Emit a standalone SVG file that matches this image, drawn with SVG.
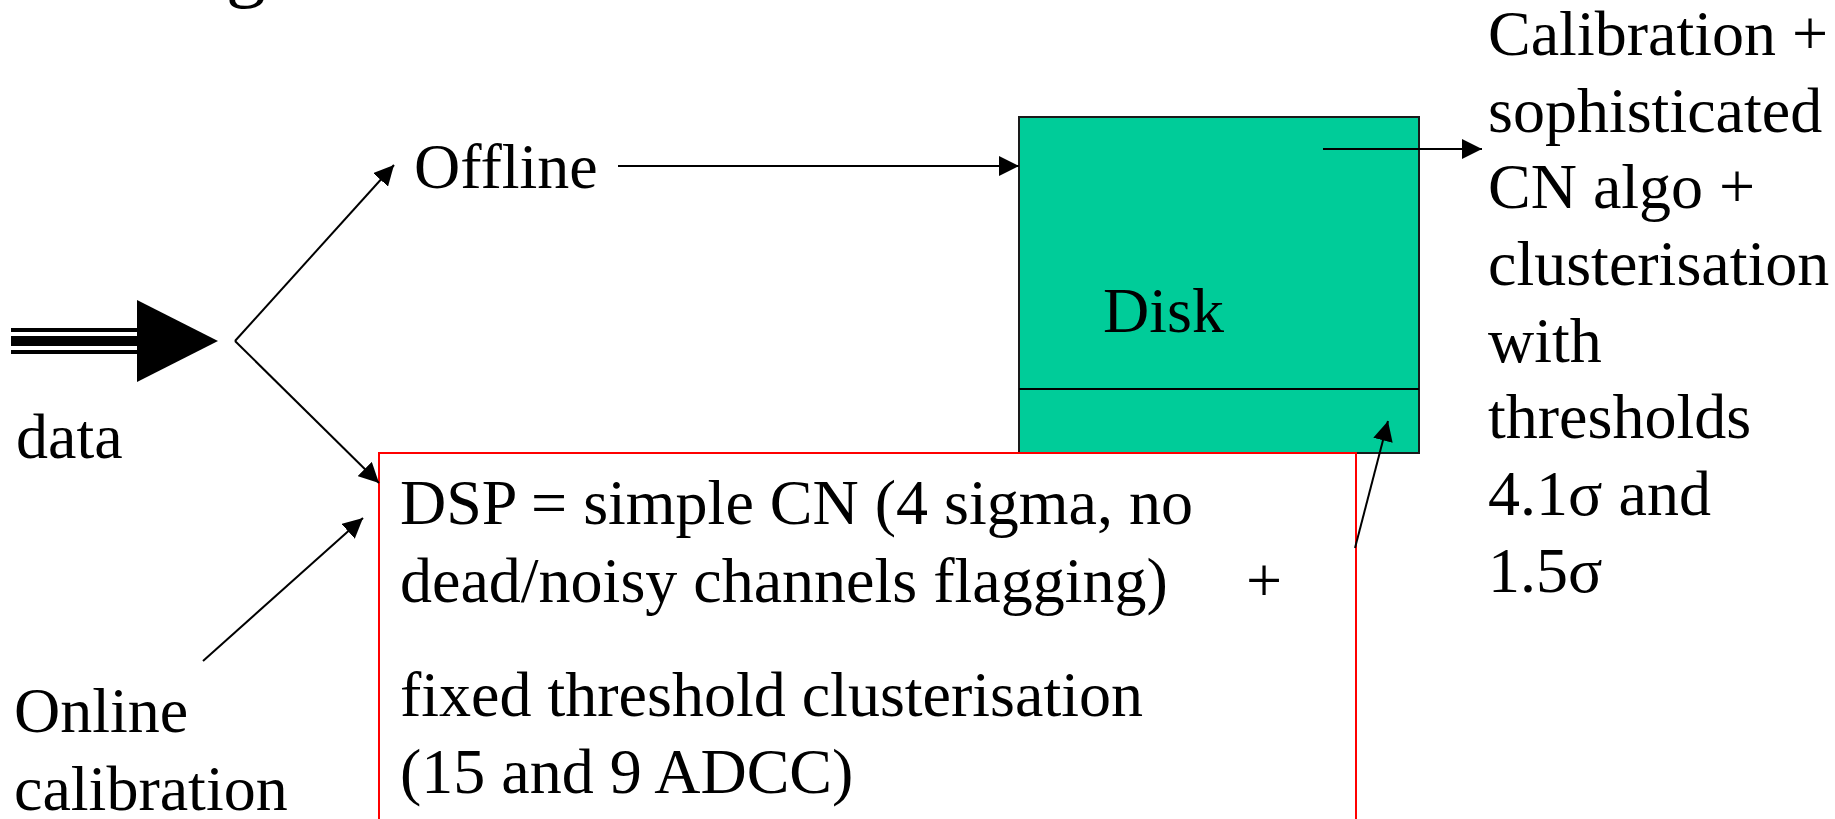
<svg xmlns="http://www.w3.org/2000/svg" width="1835" height="819" viewBox="0 0 1835 819">
  <style>
    .t { font-family: "Liberation Serif", "Times New Roman", serif; font-size: 64px; fill: #000000; }
    .conn { stroke: #000000; stroke-width: 2; fill: none; marker-end: url(#arrow); }
    .disk { fill: #00CC99; stroke: #1a1a1a; stroke-width: 2; }
    .dsp { fill: #FFFFFF; stroke: #FF0000; stroke-width: 2; }
  </style>
  <defs>
    <marker id="arrow" markerUnits="userSpaceOnUse" markerWidth="20" markerHeight="20" viewBox="0 0 20 20" refX="20" refY="10" orient="auto">
      <path d="M0,0 L20,10 L0,20 z" fill="#000000"/>
    </marker>
  </defs>
  <rect x="0" y="0" width="1835" height="819" fill="#FFFFFF"/>

  <g id="title">
    <text class="t" x="226" y="-8" style="font-size:80px">g</text>
  </g>

  <g id="data">
    <rect x="11" y="328" width="126" height="4" fill="#000000"/>
    <rect x="11" y="336" width="126" height="10" fill="#000000"/>
    <rect x="11" y="350" width="126" height="4" fill="#000000"/>
    <polygon points="137,300 218,341 137,382" fill="#000000"/>
    <text class="t" x="16" y="458">data</text>
  </g>

  <g id="offline">
    <text class="t" x="414" y="188">Offline</text>
  </g>

  <g id="online">
    <text class="t" x="14" y="732">Online</text>
    <text class="t" x="14" y="810">calibration</text>
  </g>

  <g id="disk">
    <rect class="disk" x="1019" y="117" width="400" height="336"/>
    <line x1="1019" y1="389" x2="1419" y2="389" stroke="#000000" stroke-width="2"/>
    <text class="t" x="1103" y="332">Disk</text>
  </g>

  <g id="dsp">
    <rect class="dsp" x="379" y="453" width="977" height="420"/>
    <text class="t" x="400" y="524">DSP = simple CN (4 sigma, no</text>
    <text class="t" x="400" y="602">dead/noisy channels flagging)<tspan x="1246">+</tspan></text>
    <text class="t" x="400" y="716">fixed threshold clusterisation</text>
    <text class="t" x="400" y="793">(15 and 9 ADCC)</text>
  </g>

  <g id="result">
    <text class="t" x="1488" y="55">Calibration +</text>
    <text class="t" x="1488" y="132">sophisticated</text>
    <text class="t" x="1488" y="208">CN algo +</text>
    <text class="t" x="1488" y="285">clusterisation</text>
    <text class="t" x="1488" y="362">with</text>
    <text class="t" x="1488" y="438">thresholds</text>
    <text class="t" x="1488" y="515">4.1σ and</text>
    <text class="t" x="1488" y="592">1.5σ</text>
  </g>

  <g id="connectors">
    <line class="conn" x1="235" y1="341" x2="394" y2="165"/>
    <line class="conn" x1="235" y1="341" x2="379" y2="483"/>
    <line class="conn" x1="203" y1="661" x2="363" y2="518"/>
    <line class="conn" x1="618" y1="166" x2="1019" y2="166"/>
    <line class="conn" x1="1323" y1="149" x2="1482" y2="149"/>
    <line class="conn" x1="1355" y1="548" x2="1388" y2="421"/>
  </g>
</svg>
